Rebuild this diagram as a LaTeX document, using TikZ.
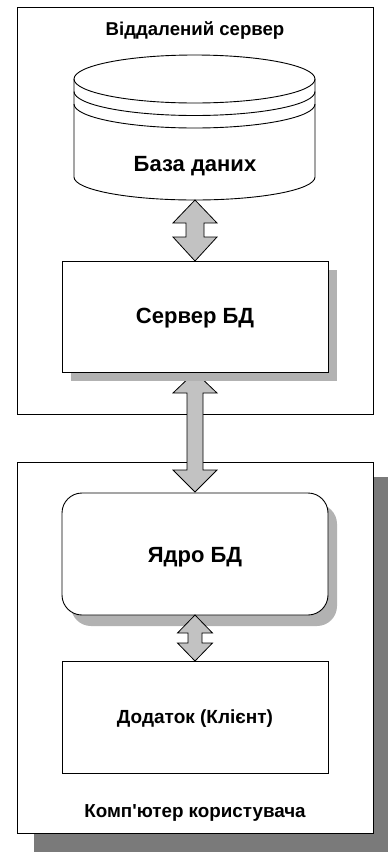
\documentclass[tikz,border=0pt]{standalone}
\usepackage{fontspec}
\setmainfont{Liberation Sans}
% same face without TeX ligatures, so that ' stays a straight apostrophe
\newfontfamily\straightquote{Liberation Sans}[Ligatures=TeXOff]
\begin{document}
\begin{tikzpicture}[x=1pt,y=1pt,
  frame/.style={draw=black,line width=0.9pt,fill=white},
  lightshadow/.style={fill=black!30,draw=none},
  darkshadow/.style={fill=black!52,draw=none},
  flow/.style={draw=black,line width=0.8pt,fill=black!24,line join=miter},
  lbl/.style={font=\bfseries\fontsize{#1}{#1}\selectfont,inner sep=0pt,anchor=center}]
% canvas: 388 x 852, y measured downwards as negative values
\useasboundingbox (0,0) rectangle (388,-852);
\clip (0,0) rectangle (388,-852);

% --- user computer (drawn first, its shadow runs off the page edge)
\fill[darkshadow] (34,-477) rectangle (400,-870);
\draw[frame] (17,-462) rectangle (373,-833);
\node[lbl=18.8] (clientpc) at (195,-813) {\straightquote Комп'ютер користувача};

% --- remote server frame
\draw[frame] (17,-7) rectangle (373,-414);
\node[lbl=18.6] (server) at (195,-31) {Віддалений сервер};

% --- database cylinder
\draw[frame] (74,-79) -- (74,-177)
  arc[start angle=180,end angle=360,x radius=120.5,y radius=23]
  -- (315,-79)
  arc[start angle=0,end angle=180,x radius=120.5,y radius=24] -- cycle;
\foreach \yy in {79,91.5,104}
  \draw[line width=0.9pt] (74,-\yy) arc[start angle=180,end angle=360,x radius=120.5,y radius=24];
\node[lbl=22] (db) at (195,-166) {База даних};

% --- double arrow between the database and the DB server
\coordinate (a1top) at (195,-200);
\coordinate (a1bot) at (195,-261);
\draw[flow] (a1top) -- ++(22,-23) -- ++(-13,0) -- (204,-237) -- ++(13,0)
  -- (a1bot) -- ++(-22,24) -- ++(13,0) -- (186,-223) -- ++(-13,0) -- cycle;

% --- long double arrow between the DB server and the DB engine
\coordinate (a2top) at (195,-372);
\coordinate (a2bot) at (195,-492);
\draw[flow] (a2top) -- ++(22,-21) -- ++(-14,0) -- (203,-470) -- ++(14,0)
  -- (a2bot) -- ++(-22,22) -- ++(14,0) -- (187,-393) -- ++(-14,0) -- cycle;

% --- DB server box with its shadow
\fill[lightshadow] (71,-270) rectangle (337,-381);
\draw[frame] (62,-261) rectangle (328,-372);
\node[lbl=22] (dbserver) at (195,-318) {Сервер БД};

% --- DB engine, rounded box with its shadow
\fill[lightshadow,rounded corners=20] (71,-504) rectangle (337,-626);
\draw[frame,rounded corners=20] (62,-493) rectangle (328,-615);
\node[lbl=22] (engine) at (195,-557) {Ядро БД};

% --- double arrow between the engine and the application
\coordinate (a3top) at (195,-615);
\coordinate (a3bot) at (195,-661);
\draw[flow] (a3top) -- ++(17.5,-18) -- ++(-10.5,0) -- (202,-643) -- ++(10.5,0)
  -- (a3bot) -- ++(-17.5,18) -- ++(10.5,0) -- (188,-633) -- ++(-10.5,0) -- cycle;

% --- application box
\draw[frame] (62,-661) rectangle (328,-773);
\node[lbl=19] (app) at (195,-719) {Додаток (Клієнт)};
\end{tikzpicture}
\end{document}
